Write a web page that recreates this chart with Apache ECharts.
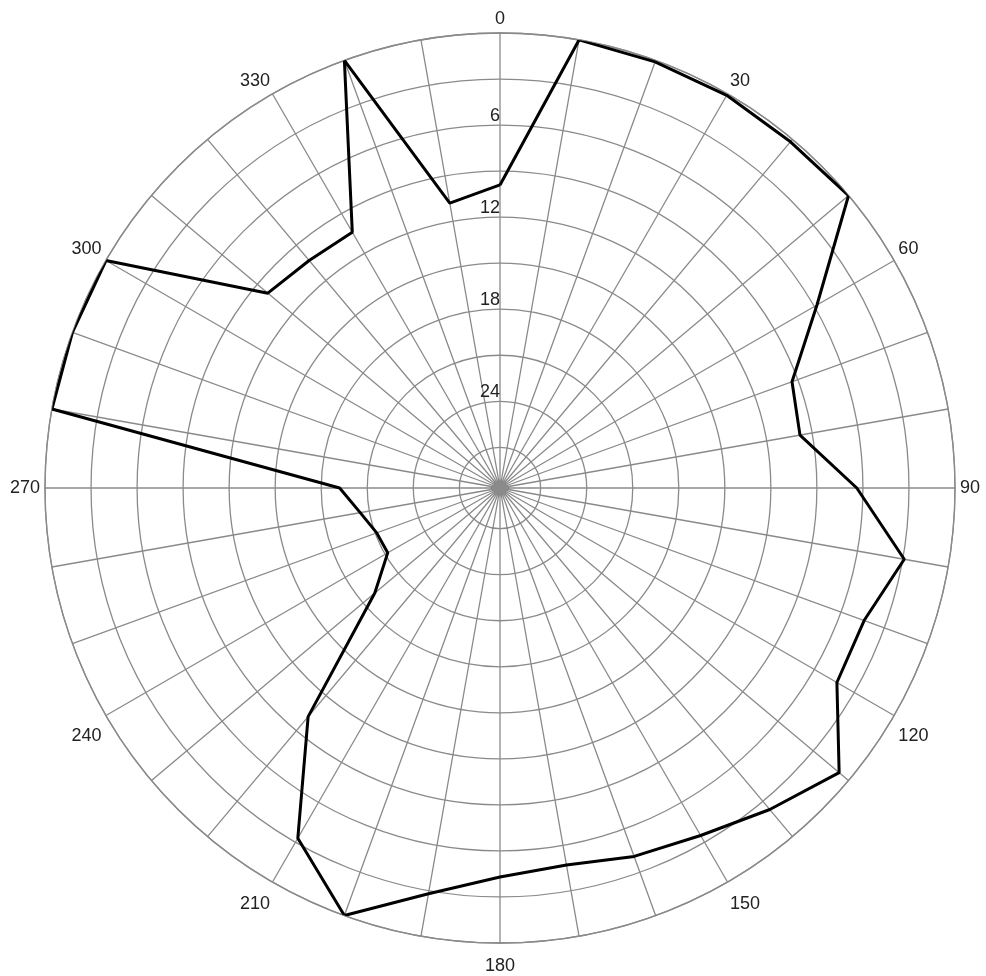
<!DOCTYPE html>
<html>
<head>
<meta charset="utf-8">
<script src="https://cdn.jsdelivr.net/npm/echarts@6/dist/echarts.min.js"></script>
<style>
html, body { margin: 0; padding: 0; background: #fff; }
#main { width: 986px; height: 976px; }
</style>
</head>
<body>
<div id="main"></div>
<script>
// angle of each reading (degrees, clockwise from top), last one closes the ring
var angles = [0, 10, 20, 30, 40, 50, 60, 70, 80, 90, 100, 110, 120, 130, 140, 150, 160, 170,
              180, 190, 200, 210, 220, 230, 240, 250, 260, 270, 280, 290, 300, 310, 320, 330, 340, 350, 360];
var depths = [9.9, 0, 0.1, 0.1, 0.2, 0, 5.8, 9.4, 9.8, 6.4, 2.9, 4.4, 4.3, 0.8, 2.3, 3.5, 4.1, 4.7,
              4.3, 2.8, 0, 3.3, 10.2, 19.0, 21.2, 21.1, 20.4, 19.2, 0, 0, 0, 9.9, 10.3, 10.4, 0, 10.8, 9.9];
var angleLabels = [0, 30, 60, 90, 120, 150, 180, 210, 240, 270, 300, 330];
var radiusLabels = [6, 12, 18, 24];

var gridColor = '#8a8a8a';
var textFont = 'Liberation Sans Narrow, Liberation Sans, Arial, sans-serif';

var points = angles.map(function (a, i) { return [depths[i], a]; });

var chart = echarts.init(document.getElementById('main'));
chart.setOption({
    animation: false,
    backgroundColor: '#fff',
    polar: {
        center: [500, 488],
        radius: [0, 455]
    },
    angleAxis: {
        type: 'value',
        min: 0,
        max: 360,
        interval: 10,
        startAngle: 90,
        clockwise: true,
        axisLine: { show: true, lineStyle: { color: gridColor, width: 1.3 } },
        axisTick: { show: false },
        axisLabel: {
            margin: 5,
            padding: [9, 0, 0, 0],
            color: '#222',
            fontSize: 18,
            fontFamily: textFont,
            formatter: function (v) {
                return angleLabels.indexOf(v) >= 0 ? String(v) : '';
            }
        },
        splitLine: { show: true, lineStyle: { color: gridColor, width: 1.3 } }
    },
    radiusAxis: {
        type: 'value',
        min: 0,
        max: 29.65,
        interval: 3,
        inverse: true,
        axisLine: { show: false },
        axisTick: { show: false },
        axisLabel: {
            margin: 0,
            align: 'right',
            verticalAlign: 'bottom',
            color: '#222',
            fontSize: 18,
            fontFamily: textFont,
            formatter: function (v) {
                return radiusLabels.indexOf(v) >= 0 ? String(v) : '';
            }
        },
        splitLine: { show: true, lineStyle: { color: gridColor, width: 1.3 } }
    },
    series: [{
        type: 'line',
        coordinateSystem: 'polar',
        data: points,
        showSymbol: false,
        lineStyle: { color: '#000', width: 3 },
        z: 5
    }]
});
</script>
</body>
</html>
